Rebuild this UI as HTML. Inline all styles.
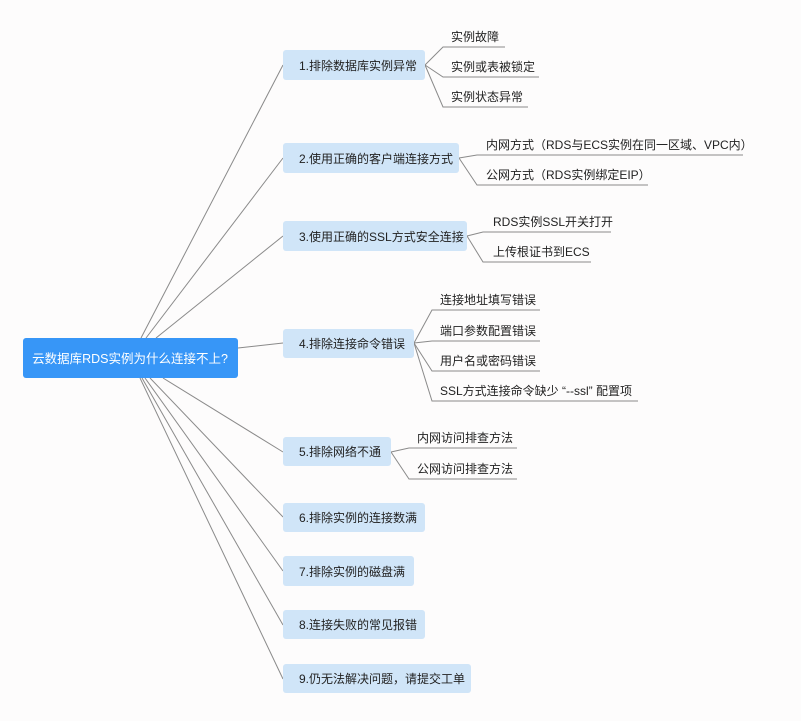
<!DOCTYPE html>
<html><head><meta charset="utf-8"><style>
body{margin:0;background:#fdfcfc;}
svg text{font-family:"Liberation Sans","Noto Sans CJK SC",sans-serif;font-size:12px;fill:#222;}
</style></head><body>
<svg width="801" height="716" viewBox="0 0 801 716" xmlns="http://www.w3.org/2000/svg">
<g stroke="#8a8a8a" stroke-width="1" fill="none">
<path d="M141 338 L283 65"/><path d="M146 338 L283 158"/><path d="M156 338 L283 236"/>
<path d="M238 348 L283 343"/>
<path d="M163 378 L283 452"/><path d="M150 378 L283 517"/><path d="M145 378 L283 571"/>
<path d="M142 378 L283 625"/><path d="M140 378 L283 679"/>
<path d="M425 65 L443 47 L505 47"/><path d="M425 65 L443 77 L539 77"/><path d="M425 65 L443 107 L528 107"/>
<path d="M459 158 L477 155 L743 155"/><path d="M459 158 L477 185 L648 185"/>
<path d="M467 236 L483 232 L611 232"/><path d="M467 236 L483 262 L591 262"/>
<path d="M414 343 L432 310 L540 310"/><path d="M414 343 L432 341 L540 341"/><path d="M414 343 L432 371 L540 371"/><path d="M414 343 L432 401 L638 401"/>
<path d="M391 452 L409 448 L517 448"/><path d="M391 452 L409 479 L517 479"/>
</g>
<rect x="23" y="338" width="215" height="40" rx="3" fill="#3796f7"/>
<text x="130" y="363" text-anchor="middle" style="fill:#fff;font-size:12.5px">云数据库RDS实例为什么连接不上?</text>
<g>
<rect x="283" y="50" width="142" height="30" rx="3" fill="#d0e5f8"/>
<rect x="283" y="143" width="176" height="30" rx="3" fill="#d0e5f8"/>
<rect x="283" y="221" width="184" height="30" rx="3" fill="#d0e5f8"/>
<rect x="283" y="329" width="131" height="29" rx="3" fill="#d0e5f8"/>
<rect x="283" y="437" width="108" height="29" rx="3" fill="#d0e5f8"/>
<rect x="283" y="503" width="142" height="29" rx="3" fill="#d0e5f8"/>
<rect x="283" y="556" width="131" height="30" rx="3" fill="#d0e5f8"/>
<rect x="283" y="610" width="142" height="29" rx="3" fill="#d0e5f8"/>
<rect x="283" y="664" width="188" height="29" rx="3" fill="#d0e5f8"/>
</g>
<g>
<text x="299" y="70">1.排除数据库实例异常</text>
<text x="299" y="163">2.使用正确的客户端连接方式</text>
<text x="299" y="241">3.使用正确的SSL方式安全连接</text>
<text x="299" y="348">4.排除连接命令错误</text>
<text x="299" y="456">5.排除网络不通</text>
<text x="299" y="522">6.排除实例的连接数满</text>
<text x="299" y="576">7.排除实例的磁盘满</text>
<text x="299" y="629">8.连接失败的常见报错</text>
<text x="299" y="683">9.仍无法解决问题，请提交工单</text>
</g>
<g style="font-size:11.5px">
<text x="451" y="41">实例故障</text>
<text x="451" y="71">实例或表被锁定</text>
<text x="451" y="101">实例状态异常</text>
<text x="486" y="149">内网方式（RDS与ECS实例在同一区域、VPC内）</text>
<text x="486" y="179">公网方式（RDS实例绑定EIP）</text>
<text x="493" y="226">RDS实例SSL开关打开</text>
<text x="493" y="256">上传根证书到ECS</text>
<text x="440" y="304">连接地址填写错误</text>
<text x="440" y="335">端口参数配置错误</text>
<text x="440" y="365">用户名或密码错误</text>
<text x="440" y="395">SSL方式连接命令缺少 “--ssl” 配置项</text>
<text x="417" y="442">内网访问排查方法</text>
<text x="417" y="473">公网访问排查方法</text>
</g>
</svg>
</body></html>
